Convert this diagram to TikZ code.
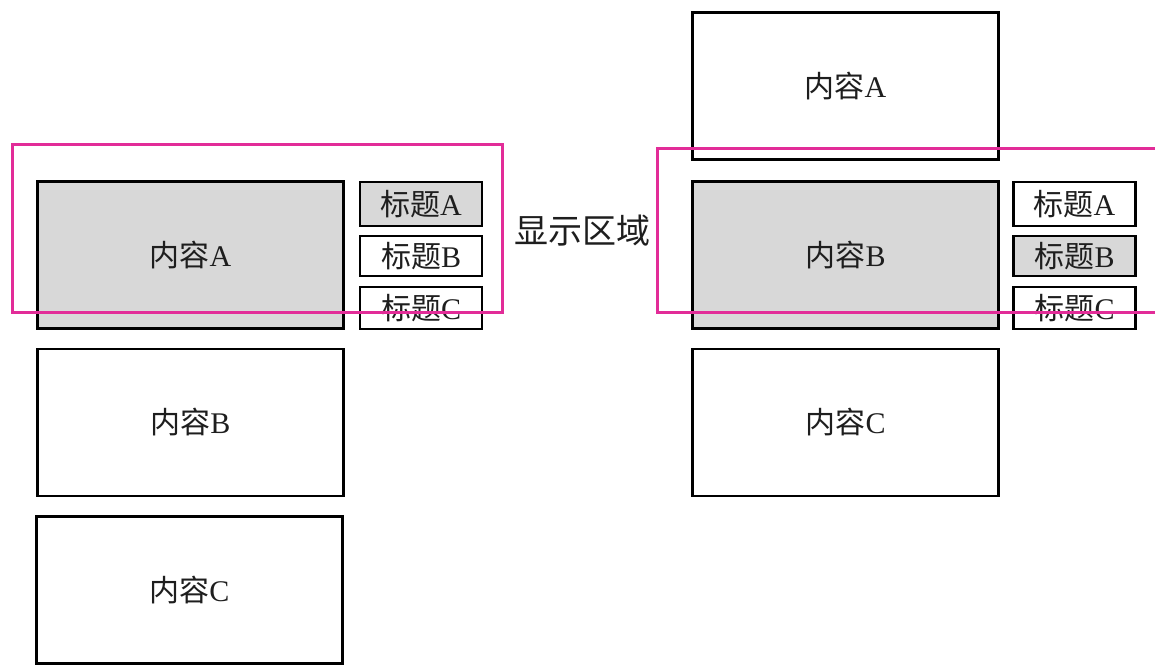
\documentclass[tikz,border=0pt]{standalone}
\usepackage{fontspec}
\setmainfont{Liberation Serif}
\newfontfamily\cjk{Noto Sans CJK SC}
\newcommand\zh[1]{{\cjk #1}}
\definecolor{boxgray}{RGB}{216,216,216}
\definecolor{viewpink}{RGB}{226,44,152}
\definecolor{txt}{RGB}{30,30,30}
\tikzset{
  content/.style={draw=black, line width=2.8pt, rectangle, minimum width=306pt, minimum height=147pt, inner sep=0pt, text=txt, font=\fontsize{30}{34}\selectfont},
  tab/.style={draw=black, line width=2.8pt, rectangle, minimum width=122pt, inner sep=0pt, text=txt, font=\fontsize{30}{34}\selectfont},
  active/.style={fill=boxgray},
  view/.style={draw=viewpink, line width=3pt}
}
\begin{document}
\begin{tikzpicture}[x=1pt, y=-1pt]
\useasboundingbox[fill=white] (0,0) rectangle (1155,665);
% left column
\node[content, active] (lA) at (190.5,255) {\zh{内容}A};
\node[content] (lB) at (190.5,422.5) {\zh{内容}B};
\node[content] (lC) at (189.5,590) {\zh{内容}C};
\node[tab, active, minimum height=44pt] (ltA) at (421,204) {\zh{标题}A};
\node[tab, minimum height=40pt] (ltB) at (421,256) {\zh{标题}B};
\node[tab, minimum height=42pt] (ltC) at (421,308) {\zh{标题}C};
% right column
\node[content] (rA) at (845.5,86) {\zh{内容}A};
\node[content, active] (rB) at (845.5,255) {\zh{内容}B};
\node[content] (rC) at (845.5,422.5) {\zh{内容}C};
\node[tab, minimum height=44pt] (rtA) at (1074.5,204) {\zh{标题}A};
\node[tab, active, minimum height=40pt] (rtB) at (1074.5,256) {\zh{标题}B};
\node[tab, minimum height=42pt] (rtC) at (1074.5,308) {\zh{标题}C};
% view frames
\draw[view] (12,144) rectangle (502,312);
\draw[view] (657,148) rectangle (1170,312);
\node[font=\cjk\fontsize{34}{38}\selectfont, inner sep=0pt, text=txt] (label) at (582,231) {显示区域};
\end{tikzpicture}
\end{document}
